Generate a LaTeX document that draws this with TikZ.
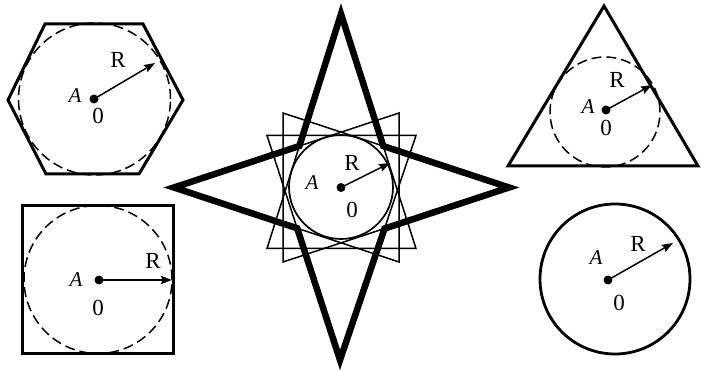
\documentclass[tikz,border=0pt]{standalone}
\usepackage{fontspec}
\setmainfont{Liberation Serif}
\usetikzlibrary{arrows.meta}
\newcommand{\bigR}{\fontsize{23}{23}\selectfont}
\newcommand{\bigA}{\fontsize{21}{21}\selectfont\itshape}
\begin{document}
\begin{tikzpicture}[x=1pt,y=-1pt,
  outline/.style={line width=3pt, line join=miter},
  dashcirc/.style={line width=1.5pt, dash pattern=on 10pt off 5pt},
  thinline/.style={line width=1.5pt},
  starline/.style={line width=6.5pt, line join=miter},
  rarrow/.style={-{Stealth[length=11pt,width=8pt,inset=1.5pt]}, line width=1.5pt},
  dotnode/.style={circle, fill, inner sep=0pt, minimum size=9pt},
  lblR/.style={inner sep=0pt},
  lblA/.style={inner sep=0pt}]
\useasboundingbox (0,0) rectangle (701,371);

% ---------- hexagon ----------
\draw[outline] (45,24) -- (143,24) -- (183,100) -- (139,174) -- (46,174) -- (8,100) -- cycle;
\draw[dashcirc] (94.5,99) circle[radius=76pt];
\node[dotnode] (hA) at (94,99) {};
\coordinate (hR) at (155,63);
\draw[rarrow] (hA.center) -- (hR);
\node[lblR] (hRl) at (118,60) {\bigR R};
\node[lblA] (hAl) at (75,96) {\bigA A};
\node[lblR] (h0) at (98,116) {\bigR 0};

% ---------- square ----------
\draw[outline] (22,206) rectangle (173,353);
\draw[dashcirc] (98,279.5) circle[radius=74pt];
\node[dotnode] (sA) at (99,280) {};
\coordinate (sR) at (172,280);
\draw[rarrow] (sA.center) -- (sR);
\node[lblR] (sRl) at (153,261) {\bigR R};
\node[lblA] (sAl) at (76,280) {\bigA A};
\node[lblR] (s0) at (98,308) {\bigR 0};

% ---------- star ----------
\coordinate (St) at (341,14);
\coordinate (Sb) at (340,360);
\coordinate (Sl) at (174,187.5);
\coordinate (Sr) at (509,187.5);
\coordinate (a1) at (283,113);
\coordinate (a2) at (283,262);
\coordinate (b1) at (399,113);
\coordinate (b2) at (399,262);
\coordinate (c1) at (267,135.5);
\coordinate (c2) at (416,135.5);
\coordinate (d1) at (267,248.5);
\coordinate (d2) at (416,248.5);
\draw[thinline] (a1) -- (Sr) -- (a2) -- cycle;
\draw[thinline] (b1) -- (Sl) -- (b2) -- cycle;
\draw[thinline] (c1) -- (c2) -- (Sb) -- cycle;
\draw[thinline] (d1) -- (d2) -- (St) -- cycle;
\coordinate (Itr) at (intersection of a1--Sr and d2--St);
\coordinate (Ibr) at (intersection of a2--Sr and c2--Sb);
\coordinate (Ibl) at (intersection of b2--Sl and c1--Sb);
\coordinate (Itl) at (intersection of b1--Sl and d1--St);
\draw[starline] (St) -- (Itr) -- (Sr) -- (Ibr) -- (Sb) -- (Ibl) -- (Sl) -- (Itl) -- cycle;
\draw[line width=1.7pt] (341,187) circle[radius=52pt];
\node[dotnode] (cA) at (341,187.5) {};
\coordinate (cR) at (390,163);
\draw[rarrow] (cA.center) -- (cR);
\node[lblR] (cRl) at (352,163) {\bigR R};
\node[lblA] (cAl) at (312,183) {\bigA A};
\node[lblR] (c0) at (352,210) {\bigR 0};

% ---------- triangle ----------
\draw[outline] (508,166) -- (604,6) -- (698,166) -- cycle;
\draw[dashcirc] (605,112) circle[radius=55pt];
\node[dotnode] (tA) at (606,110) {};
\coordinate (tR) at (652,85);
\draw[rarrow] (tA.center) -- (tR);
\node[lblR] (tRl) at (617,80) {\bigR R};
\node[lblA] (tAl) at (588,107) {\bigA A};
\node[lblR] (t0) at (606,128) {\bigR 0};

% ---------- circle ----------
\draw[line width=2.8pt] (615,279) circle[radius=75pt];
\node[dotnode] (oA) at (608,280) {};
\coordinate (oR) at (673,243);
\draw[rarrow] (oA.center) -- (oR);
\node[lblR] (oRl) at (638,244) {\bigR R};
\node[lblA] (oAl) at (596,258) {\bigA A};
\node[lblR] (o0) at (619,303) {\bigR 0};
\end{tikzpicture}
\end{document}
